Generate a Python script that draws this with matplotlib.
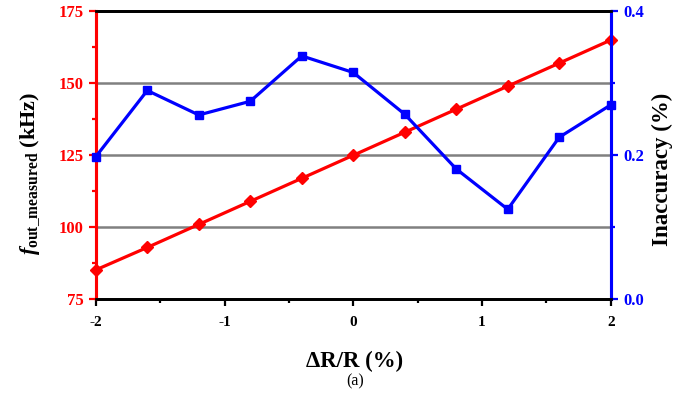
import matplotlib
matplotlib.use("Agg")
import matplotlib.pyplot as plt
from matplotlib.ticker import MultipleLocator

plt.rcParams['font.family'] = ['Liberation Serif', 'DejaVu Serif']
plt.rcParams['font.weight'] = 'bold'
plt.rcParams['axes.unicode_minus'] = False
plt.rcParams['mathtext.fontset'] = 'custom'
plt.rcParams['mathtext.rm'] = 'Liberation Serif:bold'
plt.rcParams['mathtext.it'] = 'Liberation Serif:italic:bold'
plt.rcParams['mathtext.bf'] = 'Liberation Serif:bold'

delta_r = [-2.0, -1.6, -1.2, -0.8, -0.4, 0.0, 0.4, 0.8, 1.2, 1.6, 2.0]
f_out = [85.2, 93, 101, 109, 117, 125, 133, 141, 149, 157, 165]
inaccuracy = [0.198, 0.290, 0.256, 0.275, 0.338, 0.315, 0.257, 0.181, 0.125, 0.225, 0.270]

fig = plt.figure(figsize=(6.94, 3.96), dpi=100)
ax = fig.add_axes([0.138, 0.2442, 0.742, 0.7273])
ax2 = ax.twinx()

ax.plot(delta_r, f_out, color='#ff0000', lw=2.3, marker='D', ms=6, zorder=3, clip_on=False)
ax2.plot(delta_r, inaccuracy, color='#0000ff', lw=2.3, marker='s', ms=6, zorder=3, clip_on=False)

ax.set_xlim(-2, 2)
ax.set_ylim(75, 175)
ax2.set_ylim(0.0, 0.4)

ax.xaxis.set_major_locator(MultipleLocator(1))
ax.xaxis.set_minor_locator(MultipleLocator(0.5))
ax.yaxis.set_major_locator(MultipleLocator(25))
ax.yaxis.set_minor_locator(MultipleLocator(12.5))
ax2.yaxis.set_major_locator(MultipleLocator(0.2))
ax2.yaxis.set_minor_locator(MultipleLocator(0.1))
ax2.yaxis.set_major_formatter(plt.FormatStrFormatter('%.1f'))

for yv in [100, 125, 150]:
    ax.axhline(yv, color='#808080', lw=1.8, zorder=1)

for a in (ax, ax2):
    a.spines['top'].set_color('black')
    a.spines['top'].set_linewidth(2)
    a.spines['bottom'].set_color('black')
    a.spines['bottom'].set_linewidth(2)
    a.spines['left'].set_color('#ff0000')
    a.spines['left'].set_linewidth(2.2)
    a.spines['right'].set_color('#0000ff')
    a.spines['right'].set_linewidth(2.2)

ax.tick_params(axis='y', which='major', colors='#ff0000', labelsize=12, length=5, width=1.6, direction='out', pad=4)
ax.tick_params(axis='y', which='minor', colors='#ff0000', length=3, width=1.6, direction='out')
ax2.tick_params(axis='y', which='major', colors='#0000ff', labelsize=12, length=5, width=1.6, direction='out', pad=4)
ax2.tick_params(axis='y', which='minor', colors='#0000ff', length=3, width=1.6, direction='out')
ax.tick_params(axis='x', which='major', colors='black', labelsize=11, length=5, width=1.6, direction='out', pad=7)
ax.tick_params(axis='x', which='minor', colors='black', length=3, width=1.6, direction='out')

for lbl in ax.get_yticklabels() + ax2.get_yticklabels() + ax.get_xticklabels():
    lbl.set_fontweight('bold')

ax.set_ylabel(r'$f_{\mathrm{out\_measured}}$ (kHz)', fontsize=16, fontweight='bold')
ax.yaxis.set_label_coords(-0.127, 0.437)
ax2.set_ylabel('Inaccuracy (%)', fontsize=16.5, fontweight='bold')
ax2.yaxis.set_label_coords(1.101, 0.45)
ax2.yaxis.label.set_va('center')
ax.yaxis.label.set_va('center')

fig.text(0.5114, 0.087, 'ΔR/R (%)', ha='center', va='center', fontsize=16.5, fontweight='bold')
fig.text(0.5114, 0.038, '(a)', ha='center', va='center', fontsize=11.5, fontweight='normal')

fig.savefig('out.png', dpi=100)
